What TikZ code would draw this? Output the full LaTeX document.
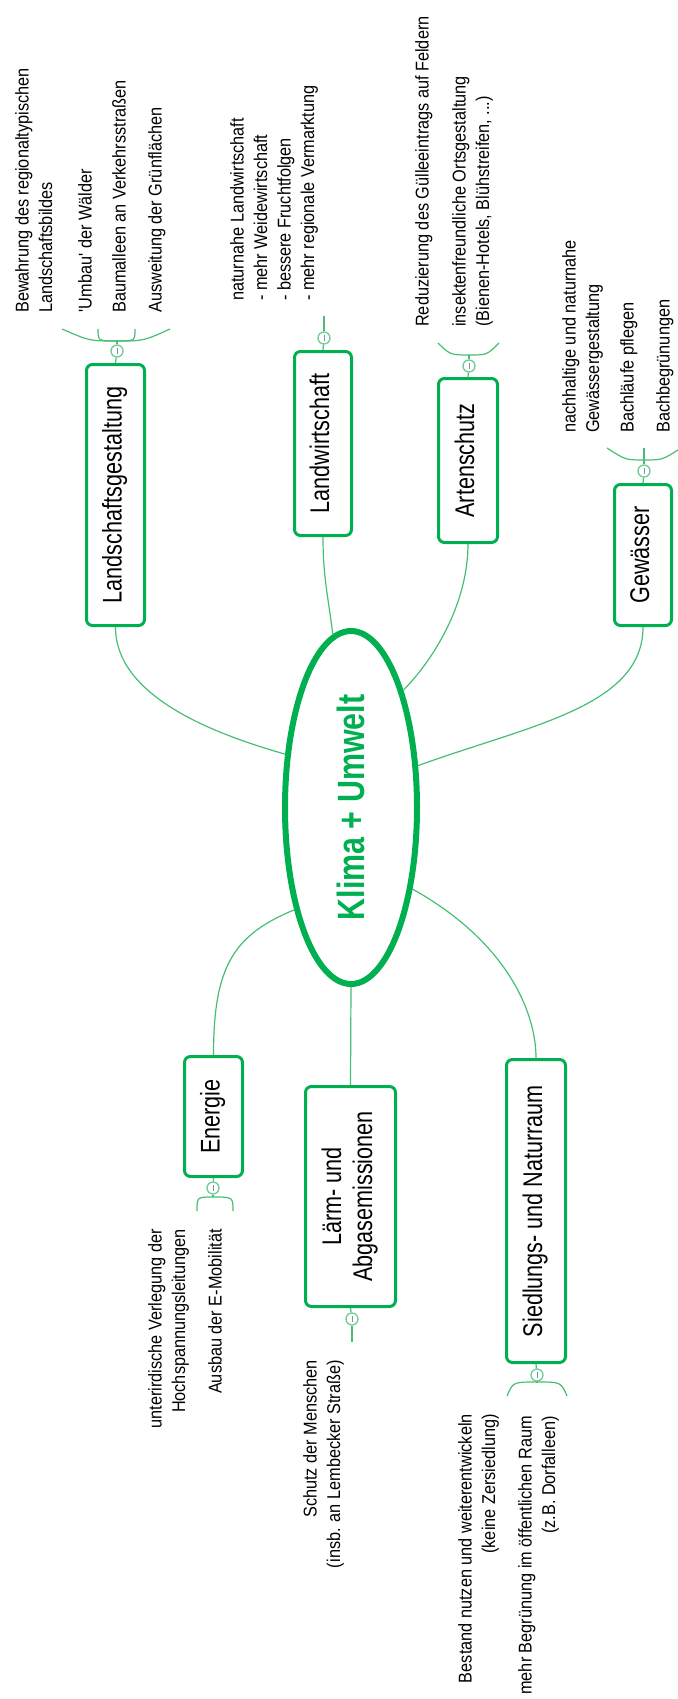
\documentclass[tikz,border=0pt]{standalone}
\usepackage{graphicx}
\usepackage{fontspec}
\setmainfont{Liberation Sans}
\newfontfamily\notefont[FakeStretch=0.88]{Liberation Sans}
\newfontfamily\boxfont[FakeStretch=0.8]{Liberation Sans}
\usetikzlibrary{shapes.geometric,calc}
\definecolor{mmgreen}{RGB}{0,176,80}
\definecolor{linegreen}{RGB}{70,190,115}
\definecolor{knobgreen}{RGB}{110,205,145}
\definecolor{markgray}{RGB}{130,140,175}
\newcommand{\uptext}[1]{\rotatebox{90}{\begin{tabular}{@{}c@{}}#1\end{tabular}}}

\begin{document}
\begin{tikzpicture}[x=1pt,y=-1pt,
    topic/.style={draw=mmgreen, line width=3pt, rounded corners=6pt, fill=white, inner sep=0pt,
      font=\boxfont\fontsize{27}{31}\selectfont},
    knob/.style={circle, draw=knobgreen, line width=1.3pt, fill=white, minimum size=12pt, inner sep=0pt,
      path picture={\draw[markgray, line width=0.7pt] ([yshift=-3pt]path picture bounding box.center)
        -- ([yshift=3pt]path picture bounding box.center);}},
    branch/.style={draw=linegreen, line width=1.2pt},
    notel/.style={rotate=90, anchor=north west, align=left, inner sep=0pt,
      font=\notefont\fontsize{18.5}{23.5}\selectfont},
    noter/.style={rotate=90, anchor=north east, align=right, inner sep=0pt,
      font=\notefont\fontsize{18.5}{23.5}\selectfont}]
  \useasboundingbox (0,0) rectangle (677,1699);

  % central topic
  \node[ellipse, draw=mmgreen, line width=6pt, fill=white, minimum width=132pt, minimum height=353pt,
    inner sep=0pt, text=mmgreen, font=\boxfont\bfseries\fontsize{38}{40}\selectfont]
    (klima) at (351,807.5) {\rotatebox{90}{Klima + Umwelt}};

  % main topics
  \node[topic, minimum width=58pt, minimum height=261pt] (landschaft) at (115.5,495) {\uptext{Landschaftsgestaltung}};
  \node[topic, minimum width=57pt, minimum height=184pt] (landwirt) at (323,443.5) {\uptext{Landwirtschaft}};
  \node[topic, minimum width=59pt, minimum height=164pt] (arten) at (468,460.5) {\uptext{Artenschutz}};
  \node[topic, minimum width=57pt, minimum height=141pt] (gewaesser) at (643,555) {\uptext{Gewässer}};
  \node[topic, minimum width=58pt, minimum height=120pt] (energie) at (213.5,1116.5) {\uptext{Energie}};
  \node[topic, minimum width=90pt, minimum height=220pt] (laerm) at (350.5,1196.5) {\uptext{Lärm- und\\Abgasemissionen}};
  \node[topic, minimum width=59pt, minimum height=303pt] (siedlung) at (536,1211) {\uptext{Siedlungs- und Naturraum}};

  % branches to the centre
  \draw[branch] (landschaft.south) .. controls +(0,70) and +(-70,-20) .. (klima.141);
  \draw[branch] (landwirt.south) .. controls +(0,40) and +(-5,-40) .. (klima.96);
  \draw[branch] (arten.south) .. controls +(0,60) and +(30,-30) .. (klima.66);
  \draw[branch] (gewaesser.south) .. controls +(0,80) and +(110,-40) .. (klima.32);
  \draw[branch] (klima.307) .. controls +(90,50) and +(0,-50) .. (siedlung.north);
  \draw[branch] (klima.241) .. controls +(-60,25) and +(0,-90) .. (energie.north);
  \draw[branch] (klima.south) -- (laerm.north);

  % knobs
  \node[knob] (kn-landschaft) at (117,351) {};
  \node[knob] (kn-landwirt) at (324,338) {};
  \node[knob] (kn-arten) at (469,366) {};
  \node[knob] (kn-gewaesser) at (644,471) {};
  \node[knob] (kn-energie) at (213,1188) {};
  \node[knob] (kn-laerm) at (352,1319) {};
  \node[knob] (kn-siedlung) at (537,1375) {};
  \draw[branch] (landschaft.north) -- (kn-landschaft);
  \draw[branch] (landwirt.north) -- (kn-landwirt);
  \draw[branch] (arten.north) -- (kn-arten);
  \draw[branch] (gewaesser.north) -- (kn-gewaesser);
  \draw[branch] (energie.south) -- (kn-energie);
  \draw[branch] (laerm.south) -- (kn-laerm);
  \draw[branch] (siedlung.south) -- (kn-siedlung);

  % Landschaftsgestaltung
  \coordinate (hub-landschaft) at (117,341);
  \draw[branch] (kn-landschaft) -- (hub-landschaft);
  \foreach \n/\x/\f in {1/62/0.5,2/98/1,3/135/1,4/170/0.5} {
    \coordinate (ls\n) at (\x,329);
    \draw[branch] (hub-landschaft) .. controls ($(hub-landschaft)!\f!(hub-landschaft -| ls\n)$) .. (ls\n);
  }
  \node[notel] (ls-a) at (15,313) {Bewahrung des regionaltypischen\\Landschaftsbildes};
  \node[notel] (ls-b) at (78,313) {\textquotesingle Umbau\textquotesingle{} der Wälder};
  \node[notel] (ls-c) at (112,313) {Baumalleen an Verkehrsstraßen};
  \node[notel] (ls-d) at (148,313) {Ausweitung der Grünflächen};

  % Landwirtschaft
  \coordinate (lw1) at (324,316);
  \draw[branch] (kn-landwirt) -- (lw1);
  \node[notel] (lw-a) at (230,301) {naturnahe Landwirtschaft\\- mehr Weidewirtschaft\\- bessere Fruchtfolgen\\- mehr regionale Vermarktung};

  % Artenschutz
  \coordinate (hub-arten) at (469,355);
  \draw[branch] (kn-arten) -- (hub-arten);
  \foreach \n/\x in {1/438,2/499} {
    \coordinate (as\n) at (\x,343);
    \draw[branch] (hub-arten) .. controls ($(hub-arten)!0.6!(hub-arten -| as\n)$) .. (as\n);
  }
  \node[notel] (as-a) at (415,327) {Reduzierung des Gülleeintrags auf Feldern};
  \node[notel] (as-b) at (452,327) {insektenfreundliche Ortsgestaltung\\(Bienen-Hotels, Blühstreifen, ...)};

  % Gewaesser
  \coordinate (hub-gewaesser) at (644,460);
  \draw[branch] (kn-gewaesser) -- (hub-gewaesser);
  \foreach \n/\x in {1/607,3/681} {
    \coordinate (gw\n) at (\x,448);
    \draw[branch] (hub-gewaesser) .. controls ($(hub-gewaesser)!0.5!(hub-gewaesser -| gw\n)$) .. (gw\n);
  }
  \coordinate (gw2) at (644,448);
  \draw[branch] (hub-gewaesser) -- (gw2);
  \node[notel] (gw-a) at (562,433) {nachhaltige und naturnahe\\Gewässergestaltung};
  \node[notel] (gw-b) at (620,433) {Bachläufe pflegen};
  \node[notel] (gw-c) at (656,433) {Bachbegrünungen};

  % Energie
  \coordinate (hub-energie) at (213,1197);
  \draw[branch] (kn-energie) -- (hub-energie);
  \foreach \n/\x in {1/197,2/233} {
    \coordinate (en\n) at (\x,1211);
    \draw[branch] (hub-energie) .. controls (hub-energie -| en\n) .. (en\n);
  }
  \node[noter] (en-a) at (148,1229) {unterirdische Verlegung der\\Hochspannungsleitungen};
  \node[noter] (en-b) at (208,1229) {Ausbau der E-Mobilität};

  % Laerm
  \coordinate (lm1) at (352,1342);
  \draw[branch] (kn-laerm) -- (lm1);
  \node[noter] (lm-a) at (303,1360) {Schutz der Menschen\\(insb. an Lembecker Straße)};

  % Siedlungs- und Naturraum
  \coordinate (hub-siedlung) at (537,1382);
  \draw[branch] (kn-siedlung) -- (hub-siedlung);
  \foreach \n/\x in {1/507,2/567} {
    \coordinate (sn\n) at (\x,1396);
    \draw[branch] (hub-siedlung) .. controls ($(hub-siedlung)!0.8!(hub-siedlung -| sn\n)$) .. (sn\n);
  }
  \node[noter] (sn-a) at (458,1414) {Bestand nutzen und weiterentwickeln\\(keine Zersiedlung)};
  \node[noter] (sn-b) at (518,1416) {mehr Begrünung im öffentlichen Raum\\(z.B. Dorfalleen)};
\end{tikzpicture}
\end{document}
